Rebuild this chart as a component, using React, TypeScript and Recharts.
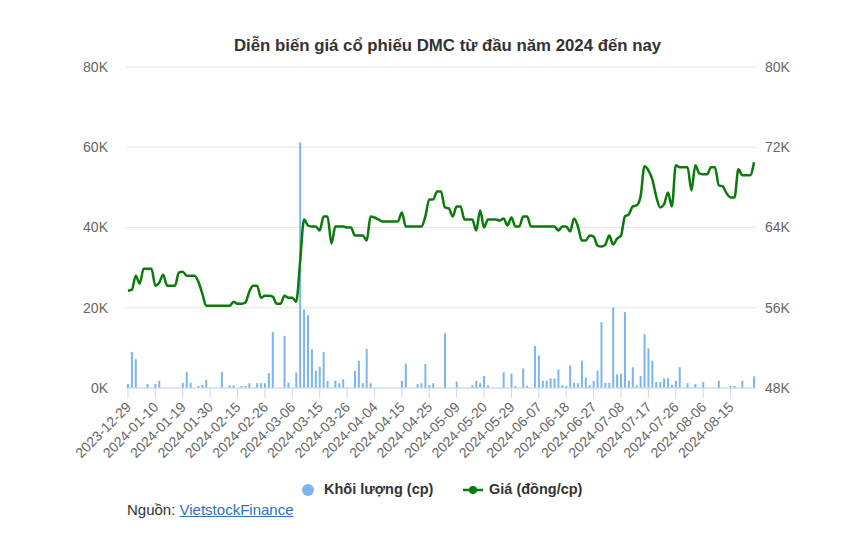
import {
  ComposedChart,
  Bar,
  Line,
  CartesianGrid,
  XAxis,
  YAxis,
} from "recharts";

// every 7th trading day gets a label
const TICK_DATES = [
  "2023-12-29", "2024-01-10", "2024-01-19", "2024-01-30", "2024-02-15",
  "2024-02-26", "2024-03-06", "2024-03-15", "2024-03-26", "2024-04-04",
  "2024-04-15", "2024-04-25", "2024-05-09", "2024-05-20", "2024-05-29",
  "2024-06-07", "2024-06-18", "2024-06-27", "2024-07-08", "2024-07-17",
  "2024-07-26", "2024-08-06", "2024-08-15",
];

// Khối lượng (cp), one value per trading day
const VOLUME = [
  1000, 9000, 7200, 0, 0, 1000, 0, 1000, 1800, 0,
  0, 0, 0, 0, 1300, 4000, 1300, 0, 500, 800,
  2000, 0, 0, 0, 4000, 0, 700, 700, 0, 500,
  500, 1200, 0, 1200, 1200, 1200, 3700, 14000, 0, 0,
  13000, 1300, 0, 3900, 61200, 19600, 18100, 9700, 4300, 5300,
  9000, 1800, 0, 1800, 1200, 2200, 0, 0, 4300, 6800,
  1200, 9700, 1200, 0, 0, 0, 0, 0, 0, 0,
  1800, 6100, 0, 0, 1000, 1200, 6000, 700, 1200, 0,
  0, 13600, 0, 0, 1600, 0, 0, 0, 700, 1800,
  1200, 3000, 700, 0, 0, 0, 3900, 0, 3600, 500,
  0, 4900, 500, 0, 10500, 8100, 1800, 1800, 2400, 2400,
  4600, 700, 500, 5600, 1300, 1200, 6800, 2600, 700, 1800,
  4300, 16400, 1300, 1300, 20100, 3400, 3600, 18900, 1800, 5200,
  700, 3000, 13400, 9900, 6800, 1500, 1500, 2400, 2400, 800,
  1800, 5200, 0, 1200, 0, 1000, 0, 1500, 0, 0,
  0, 1800, 0, 0, 500, 500, 0, 1800, 0, 0,
  2900,
];

// Giá (đồng/cp)
const PRICE = [
  57700, 57800, 59200, 58400, 59900, 59900, 59900, 58200, 58500, 59300,
  58200, 58200, 58200, 59500, 59600, 59200, 59200, 59200, 58600, 57400,
  56200, 56200, 56200, 56200, 56200, 56200, 56200, 56600, 56400, 56400,
  56500, 57600, 58200, 58200, 57000, 57200, 57200, 57100, 56400, 56400,
  57200, 57000, 57000, 56600, 60600, 64800, 64200, 64100, 64100, 63700,
  65100, 65100, 62400, 64100, 64100, 64100, 64000, 64000, 63200, 63200,
  63200, 62700, 65100, 65000, 64800, 64600, 64600, 64600, 64600, 64600,
  65500, 64100, 64100, 64100, 64100, 64100, 65100, 66800, 66800, 67600,
  67600, 66000, 65900, 65100, 66100, 66100, 64800, 64800, 64800, 63700,
  65700, 64000, 64800, 64800, 64800, 64700, 64900, 64200, 65000, 64100,
  64100, 65100, 65100, 64100, 64100, 64100, 64100, 64100, 64100, 64100,
  63700, 64100, 64100, 63600, 64900, 64100, 62700, 62700, 63200, 63100,
  62200, 62100, 62300, 63200, 62300, 62900, 63200, 65100, 65300, 66100,
  66200, 67100, 70100, 69700, 68800, 67100, 66000, 66300, 67500, 66100,
  70200, 70000, 70000, 70000, 67700, 70200, 69400, 69300, 69300, 70000,
  70000, 68200, 68100, 67400, 67000, 67000, 69800, 69200, 69200, 69200,
  70500,
];

const VOLUME_TICKS = [0, 20000, 40000, 60000, 80000];
const PRICE_TICKS = [48000, 56000, 64000, 72000, 80000];

const FONT = '"Liberation Sans", Arial, Helvetica, sans-serif';

const data = VOLUME.map((volume, i) => ({ i, volume, price: PRICE[i] }));

const kFormat = (v: number) => `${v / 1000}K`;

function DateTick({ x, y, payload }: any) {
  const idx = payload.value as number;
  const label = idx % 7 === 0 ? TICK_DATES[idx / 7] : "";
  const tx = x + 4;
  const ty = y + 8;
  return (
    <text
      x={tx}
      y={ty}
      textAnchor="end"
      transform={`rotate(-45 ${tx} ${ty})`}
      fontSize={14}
      fill="#666666"
      fontFamily={FONT}
    >
      {label}
    </text>
  );
}

export default function App() {
  return (
    <div
      style={{
        position: "absolute",
        left: 0,
        top: 0,
        width: 862,
        height: 550,
        background: "#fff",
        fontFamily: FONT,
      }}
    >
      <div
        style={{
          position: "absolute",
          top: 36,
          left: 234,
          whiteSpace: "nowrap",
          fontSize: 16.8,
          fontWeight: "bold",
          color: "#333333",
        }}
      >
        Diễn biến giá cổ phiếu DMC từ đầu năm 2024 đến nay
      </div>

      <ComposedChart
        width={862}
        height={550}
        data={data}
        margin={{ top: 67, right: 46, left: 66, bottom: 0 }}
        barCategoryGap={0}
      >
        <CartesianGrid
          vertical={false}
          stroke="#e6e6e6"
          yAxisId="left"
        />
        <XAxis
          dataKey="i"
          height={162}
          interval={6}
          tickSize={10}
          tickMargin={2}
          stroke="#ccd6eb"
          tick={<DateTick />}
        />
        <YAxis
          yAxisId="left"
          width={60}
          domain={[0, 80000]}
          ticks={VOLUME_TICKS}
          tickFormatter={kFormat}
          axisLine={false}
          tickLine={false}
          tickSize={0}
          tickMargin={18}
          tick={{ fill: "#666666", fontSize: 14, fontFamily: FONT }}
        />
        <YAxis
          yAxisId="right"
          orientation="right"
          width={60}
          domain={[48000, 80000]}
          ticks={PRICE_TICKS}
          tickFormatter={kFormat}
          axisLine={false}
          tickLine={false}
          tickSize={0}
          tickMargin={9}
          tick={{ fill: "#666666", fontSize: 14, fontFamily: FONT, textAnchor: "start" }}
        />
        <Bar
          yAxisId="left"
          dataKey="volume"
          fill="#7cb5ec"
          barSize={2}
          isAnimationActive={false}
        />
        <Line
          yAxisId="right"
          dataKey="price"
          type="monotone"
          stroke="#0b7a0b"
          strokeWidth={2.5}
          dot={false}
          isAnimationActive={false}
        />
      </ComposedChart>

      <div
        style={{
          position: "absolute",
          top: 480,
          left: 0,
          width: 862,
          height: 20,
          fontSize: 14.5,
          fontWeight: "bold",
          color: "#333333",
        }}
      >
        <svg width={16} height={16} style={{ position: "absolute", left: 300, top: 2 }}>
          <circle cx={8} cy={8} r={6} fill="#7cb5ec" />
        </svg>
        <span style={{ position: "absolute", left: 324, top: 1, whiteSpace: "nowrap" }}>
          Khối lượng (cp)
        </span>
        <svg width={20} height={16} style={{ position: "absolute", left: 463, top: 2 }}>
          <line x1={0} y1={8} x2={20} y2={8} stroke="#0b7a0b" strokeWidth={2.5} />
          <circle cx={10} cy={8} r={4} fill="#0b7a0b" />
        </svg>
        <span style={{ position: "absolute", left: 489, top: 1, whiteSpace: "nowrap" }}>
          Giá (đồng/cp)
        </span>
      </div>

      <div
        style={{
          position: "absolute",
          top: 501,
          left: 127,
          fontSize: 15,
          color: "#333333",
        }}
      >
        Nguồn:{" "}
        <a href="#" style={{ color: "#2f6ec2", textDecoration: "underline" }}>
          VietstockFinance
        </a>
      </div>
    </div>
  );
}
